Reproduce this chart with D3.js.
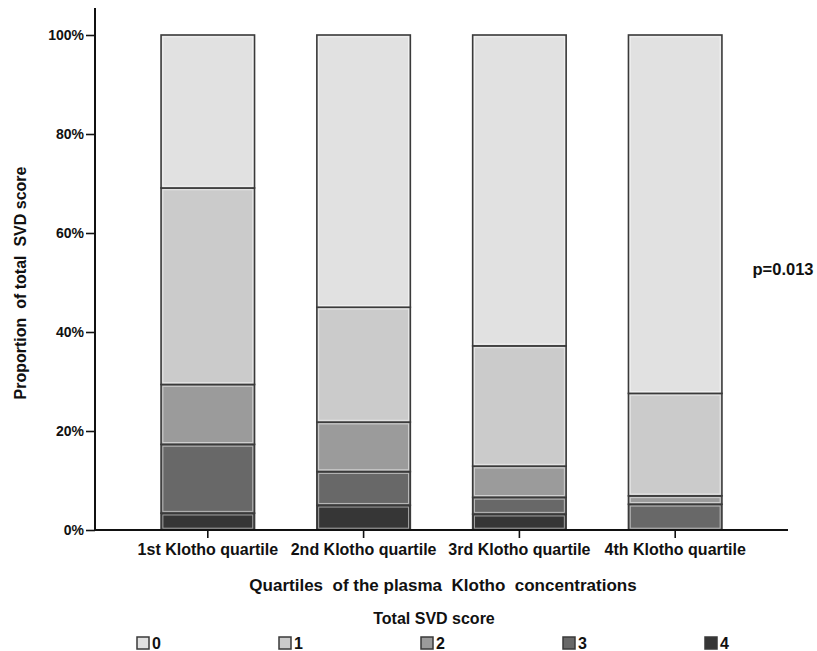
<!DOCTYPE html>
<html>
<head>
<meta charset="utf-8">
<script src="https://cdn.jsdelivr.net/npm/d3@7"></script>
<style>
  body { margin: 0; background: #fff; }
  text { font-family: "Liberation Sans", Arial, sans-serif; fill: #111; }
  .narrow { font-family: "Liberation Sans Narrow", "Liberation Sans", Arial, sans-serif; }
</style>
</head>
<body>
<svg id="chart" width="817" height="651"></svg>
<script>
// quartile categories
var quartiles = ["1st Klotho quartile", "2nd Klotho quartile", "3rd Klotho quartile", "4th Klotho quartile"];

// percentage of each SVD score in each quartile
var score0 = [30.9, 55.0, 62.8, 72.4];
var score1 = [39.7, 23.2, 24.3, 20.7];
var score2 = [12.1, 10.0, 6.3, 1.7];
var score3 = [13.9, 6.8, 3.4, 5.2];
var score4 = [3.4, 5.0, 3.2, 0.0];

var scoreKeys = ["0", "1", "2", "3", "4"];
var scoreColors = ["#e1e1e1", "#cbcbcb", "#9b9b9b", "#686868", "#363636"];
var yTicks = [0, 0.2, 0.4, 0.6, 0.8, 1.0];

var rows = quartiles.map(function(q, i){
  return {q: q, "0": score0[i], "1": score1[i], "2": score2[i], "3": score3[i], "4": score4[i]};
});

var svg = d3.select("#chart");

var x = d3.scaleBand()
  .domain(quartiles)
  .range([95, 788])
  .paddingInner(0.4)
  .paddingOuter(0.424);

var y = d3.scaleLinear()
  .domain([0, 1])
  .range([530, 35]);

var color = d3.scaleOrdinal().domain(scoreKeys).range(scoreColors);

// stack from score 4 at the bottom to score 0 on top
var stack = d3.stack().keys(["4", "3", "2", "1", "0"])(rows);

var layer = svg.append("g").selectAll("g")
  .data(stack)
  .join("g")
  .attr("fill", function(d){ return color(d.key); });

layer.selectAll("rect.seg")
  .data(function(d){ return d.filter(function(v){ return v[1] - v[0] > 0; }); })
  .join("rect")
  .attr("class", "seg")
  .attr("x", function(d){ return x(d.data.q); })
  .attr("width", x.bandwidth())
  .attr("y", function(d){ return y(d[1] / 100); })
  .attr("height", function(d){ return y(d[0] / 100) - y(d[1] / 100); })
  .attr("stroke", "#3a3a3a")
  .attr("stroke-width", 1.6);

// light inner edge, like the original rendering
layer.selectAll("rect.hi")
  .data(function(d){ return d.filter(function(v){ return y(v[0] / 100) - y(v[1] / 100) > 4; }); })
  .join("rect")
  .attr("class", "hi")
  .attr("x", function(d){ return x(d.data.q) + 1.8; })
  .attr("width", x.bandwidth() - 3.6)
  .attr("y", function(d){ return y(d[1] / 100) + 1.8; })
  .attr("height", function(d){ return y(d[0] / 100) - y(d[1] / 100) - 3.6; })
  .attr("fill", "none")
  .attr("stroke", "#ffffff")
  .attr("stroke-opacity", 0.55)
  .attr("stroke-width", 1);

// y axis
var yAxis = svg.append("g")
  .attr("transform", "translate(95,0)")
  .call(d3.axisLeft(y).tickValues(yTicks).tickFormat(d3.format(".0%")).tickSize(9).tickPadding(2));
yAxis.select(".domain").remove();
yAxis.selectAll("line").attr("stroke", "#111").attr("stroke-width", 1.6);
yAxis.selectAll("text").style("font-size", "14px").style("font-weight", "bold").attr("fill", "#111");

svg.append("line")
  .attr("x1", 95).attr("x2", 95)
  .attr("y1", 8).attr("y2", 530)
  .attr("stroke", "#111").attr("stroke-width", 2);

// x axis
var xAxis = svg.append("g")
  .attr("transform", "translate(0,530)")
  .call(d3.axisBottom(x).tickSize(8).tickPadding(6));
xAxis.select(".domain").remove();
xAxis.selectAll("line").attr("stroke", "#111").attr("stroke-width", 1.6);
xAxis.selectAll("text")
  .attr("class", "narrow")
  .style("font-size", "16px")
  .style("font-weight", "bold")
  .attr("fill", "#111");

svg.append("line")
  .attr("x1", 94).attr("x2", 788)
  .attr("y1", 530).attr("y2", 530)
  .attr("stroke", "#111").attr("stroke-width", 2);

// axis titles
svg.append("text")
  .attr("transform", "translate(26,283) rotate(-90)")
  .attr("text-anchor", "middle")
  .style("font-size", "16px")
  .style("font-weight", "bold")
  .style("white-space", "pre")
  .text("Proportion  of total  SVD score");

svg.append("text")
  .attr("x", 443).attr("y", 591)
  .attr("text-anchor", "middle")
  .style("font-size", "17px")
  .style("font-weight", "bold")
  .style("white-space", "pre")
  .text("Quartiles  of the plasma  Klotho  concentrations");

svg.append("text")
  .attr("x", 783).attr("y", 275)
  .attr("text-anchor", "middle")
  .style("font-size", "16.5px")
  .style("font-weight", "bold")
  .text("p=0.013");

// legend
svg.append("text")
  .attr("class", "narrow")
  .attr("x", 434).attr("y", 624)
  .attr("text-anchor", "middle")
  .style("font-size", "16px")
  .style("font-weight", "bold")
  .text("Total SVD score");

var legend = svg.append("g").selectAll("g")
  .data(scoreKeys)
  .join("g")
  .attr("transform", function(d, i){ return "translate(" + (137 + i * 142) + ",637)"; });

legend.append("rect")
  .attr("width", 12).attr("height", 12)
  .attr("fill", function(d){ return color(d); })
  .attr("stroke", "#3a3a3a")
  .attr("stroke-width", 1.5);

legend.append("text")
  .attr("class", "narrow")
  .attr("x", 15).attr("y", 12)
  .style("font-size", "16px")
  .style("font-weight", "bold")
  .text(function(d){ return d; });
</script>
</body>
</html>
